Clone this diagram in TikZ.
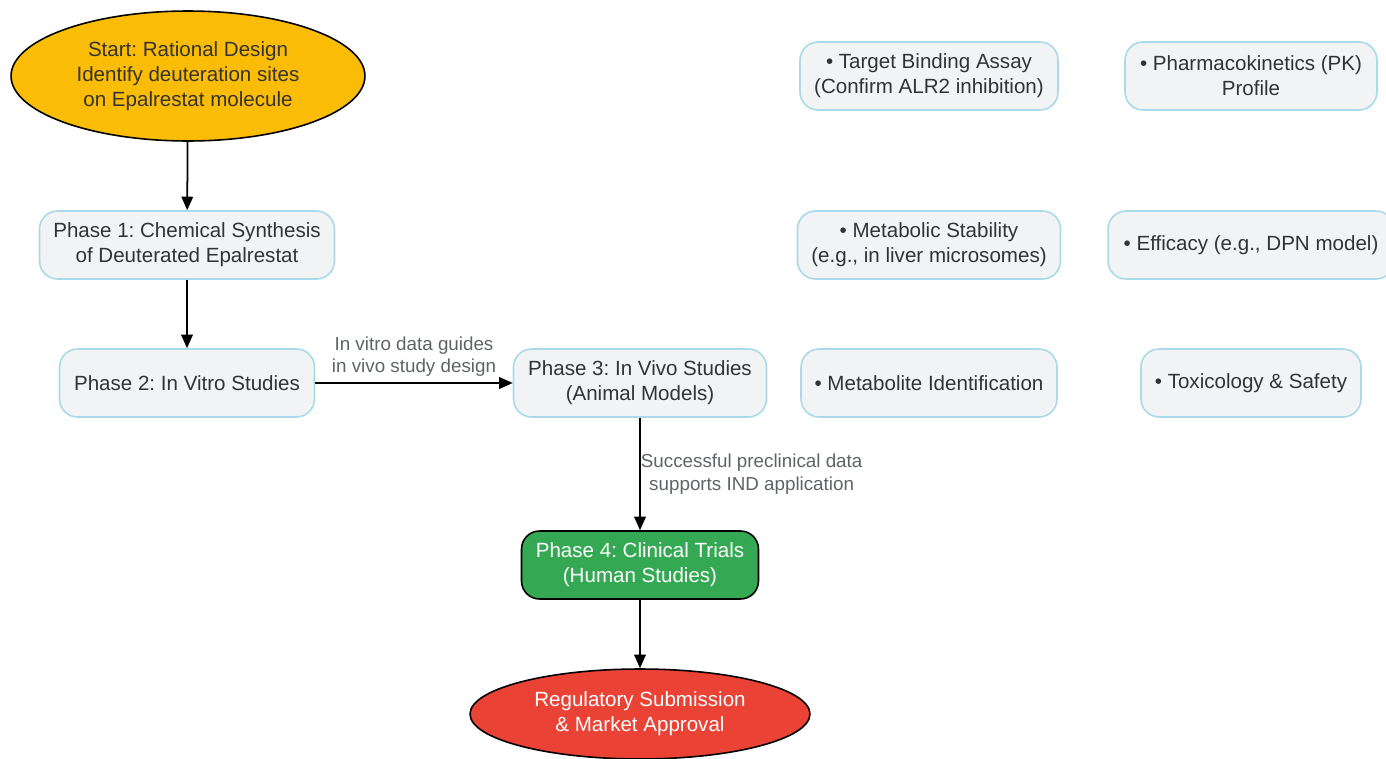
\documentclass[tikz,border=0pt]{standalone}
\usepackage{fontspec}
\setmainfont{Liberation Sans}
\usetikzlibrary{shapes.geometric, arrows.meta}
\frenchspacing

\definecolor{boxfill}{HTML}{F1F3F4}
\definecolor{boxline}{HTML}{A8DAEA}
\definecolor{txt}{HTML}{333333}
\definecolor{lbl}{HTML}{5F6368}
\definecolor{startfill}{HTML}{FBBC05}
\definecolor{clinfill}{HTML}{34A853}
\definecolor{regfill}{HTML}{EA4335}

\tikzset{
  phase/.style={rectangle, rounded corners=0.36cm, draw=boxline, line width=0.9pt, fill=boxfill, text=txt, align=center, minimum height=1.36cm, inner sep=0pt},
  oval/.style={ellipse, draw=black, line width=0.9pt, align=center, inner sep=0pt},
  elabel/.style={text=lbl, font=\fontsize{10.7}{13}\selectfont, align=center, inner sep=0pt},
  arr/.style={-{Triangle[length=2.7mm,width=2.3mm]}, line width=1pt}
}

\begin{document}
\begin{tikzpicture}[x=0.02cm, y=-0.02cm, font=\fontsize{11.7}{14.2}\selectfont]
\useasboundingbox (0,0) rectangle (1386,758);

%Nodes
\node (S) at (188,76) [oval, fill=startfill, text=txt, minimum width=7.08cm, minimum height=2.6cm] {Start: Rational Design\\Identify deuteration sites\\on Epalrestat molecule};
\node (P1) at (187,245) [phase, minimum width=5.9cm] {Phase 1: Chemical Synthesis\\of Deuterated Epalrestat};
\node (P2) at (187,383) [phase, minimum width=5.1cm] {Phase 2: In Vitro Studies};
\node (P3) at (640,383) [phase, minimum width=5.06cm] {Phase 3: In Vivo Studies\\(Animal Models)};
\node (P4) at (640,565) [phase, draw=black, fill=clinfill, text=white, minimum width=4.74cm] {Phase 4: Clinical Trials\\(Human Studies)};
\node (R) at (640,714) [oval, fill=regfill, text=white, minimum width=6.8cm, minimum height=1.8cm] {Regulatory Submission\\\& Market Approval};

\draw[arr] (S) to (P1);
\draw[arr] (P1) to (P2);
\draw[arr] (P2) to node[midway, above=3pt, elabel] {In vitro data guides\\in vivo study design} (P3);
\draw[arr] (P3) to node[midway, right=0pt, elabel] {Successful preclinical data\\supports IND application} (P4);
\draw[arr] (P4) to (R);

%Assays
\node (T1) at (929,76) [phase, minimum width=5.16cm] {\textbullet{} Target Binding Assay\\(Confirm ALR2 inhibition)};
\node (T2) at (929,245) [phase, minimum width=5.26cm] {\textbullet{} Metabolic Stability\\(e.g., in liver microsomes)};
\node (T3) at (929,383) [phase, minimum width=5.12cm] {\textbullet{} Metabolite Identification};

\node (V1) at (1251,76) [phase, minimum width=5.04cm] {\textbullet{} Pharmacokinetics (PK)\\Profile};
\node (V2) at (1251,245) [phase, minimum width=5.72cm] {\textbullet{} Efficacy (e.g., DPN model)};
\node (V3) at (1251,383) [phase, minimum width=4.4cm] {\textbullet{} Toxicology \& Safety};

\end{tikzpicture}
\end{document}
